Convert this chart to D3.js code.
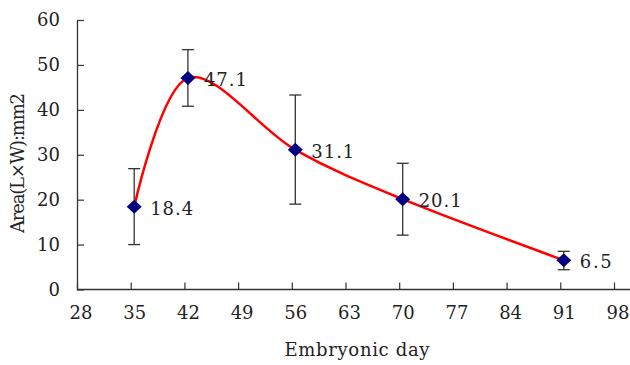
<!DOCTYPE html>
<html>
<head>
<meta charset="utf-8">
<script src="https://cdn.jsdelivr.net/npm/d3@7"></script>
<style>
  body { margin: 0; background: #fff; }
  svg text { font-family: "DejaVu Serif", "Liberation Serif", serif; fill: #222; }
</style>
</head>
<body>
<svg width="630" height="365"></svg>
<script>
// data
const days = [35, 42, 56, 70, 91];
const area = [18.4, 47.1, 31.1, 20.1, 6.5];
const errHigh = [26.9, 53.4, 43.3, 28.1, 8.5];
const errLow = [10.0, 40.8, 19.0, 12.1, 4.4];
const xTicks = [28, 35, 42, 49, 56, 63, 70, 77, 84, 91, 98];
const yTicks = [0, 10, 20, 30, 40, 50, 60];

const points = days.map((d, i) => ({x: d, y: area[i], hi: errHigh[i], lo: errLow[i]}));

const svg = d3.select("svg");

const xScale = d3.scaleLinear().domain([28, 98]).range([80.5, 617.5]);
const yScale = d3.scaleLinear().domain([0, 60]).range([289.5, 20]);

// x axis line runs from the y axis to the right edge
svg.append("line")
  .attr("x1", 77).attr("x2", 630)
  .attr("y1", yScale(0)).attr("y2", yScale(0))
  .attr("stroke", "#333").attr("stroke-width", 1.3);

// x ticks point up into the plot, drawn a little left of their labels
const xAxis = d3.axisBottom(xScale).tickValues(xTicks).tickSize(-7).tickSizeOuter(0).tickPadding(17);
const gx = svg.append("g").attr("transform", "translate(0," + yScale(0) + ")").call(xAxis);
gx.select(".domain").remove();
gx.selectAll(".tick line").attr("stroke", "#333").attr("stroke-width", 1.2)
  .attr("transform", "translate(-3.5,0)");
gx.selectAll(".tick text").attr("font-size", "18px").attr("fill", "#222")
  .attr("font-family", "DejaVu Serif");

// y axis, ticks pointing right into the plot
const yAxis = d3.axisLeft(yScale).tickValues(yTicks).tickSize(-7).tickSizeOuter(0).tickPadding(17);
const gy = svg.append("g").attr("transform", "translate(77,0)").call(yAxis);
gy.select(".domain").attr("stroke", "#333").attr("stroke-width", 1.3);
gy.selectAll(".tick line").attr("stroke", "#333").attr("stroke-width", 1.2);
gy.selectAll(".tick text").attr("font-size", "18px").attr("fill", "#222")
  .attr("font-family", "DejaVu Serif");

// axis titles
svg.append("text")
  .attr("x", 357).attr("y", 356)
  .attr("text-anchor", "middle")
  .attr("font-size", "18px")
  .attr("textLength", 145).attr("lengthAdjust", "spacing")
  .text("Embryonic day");

svg.append("text")
  .attr("transform", "translate(24,163) rotate(-90)")
  .attr("text-anchor", "middle")
  .attr("font-size", "18px")
  .attr("textLength", 140).attr("lengthAdjust", "spacing")
  .text("Area(L×W):mm2");

// smoothed line
const line = d3.line()
  .curve(d3.curveCatmullRom.alpha(0))
  .x(d => xScale(d.x))
  .y(d => yScale(d.y));

svg.append("path")
  .datum(points)
  .attr("d", line)
  .attr("fill", "none")
  .attr("stroke", "#ff0000")
  .attr("stroke-width", 2.5);

// error bars
const err = svg.append("g").attr("stroke", "#333").attr("stroke-width", 1.3);
err.selectAll("line.v").data(points).enter().append("line")
  .attr("x1", d => xScale(d.x)).attr("x2", d => xScale(d.x))
  .attr("y1", d => yScale(d.hi)).attr("y2", d => yScale(d.lo));
err.selectAll("line.t").data(points).enter().append("line")
  .attr("x1", d => xScale(d.x) - 6).attr("x2", d => xScale(d.x) + 6)
  .attr("y1", d => yScale(d.hi)).attr("y2", d => yScale(d.hi));
err.selectAll("line.b").data(points).enter().append("line")
  .attr("x1", d => xScale(d.x) - 6).attr("x2", d => xScale(d.x) + 6)
  .attr("y1", d => yScale(d.lo)).attr("y2", d => yScale(d.lo));

// diamond markers
svg.selectAll("path.marker").data(points).enter().append("path")
  .attr("class", "marker")
  .attr("d", "M0,-7L7.5,0L0,7L-7.5,0Z")
  .attr("transform", d => "translate(" + xScale(d.x) + "," + yScale(d.y) + ")")
  .attr("fill", "#000080");

// value labels
svg.selectAll("text.val").data(points).enter().append("text")
  .attr("class", "val")
  .attr("x", d => xScale(d.x) + 16)
  .attr("y", d => yScale(d.y) + 8)
  .attr("font-size", "18px")
  .attr("textLength", d => d.y >= 10 ? 43 : 32).attr("lengthAdjust", "spacing")
  .text(d => d.y.toFixed(1));
</script>
</body>
</html>
